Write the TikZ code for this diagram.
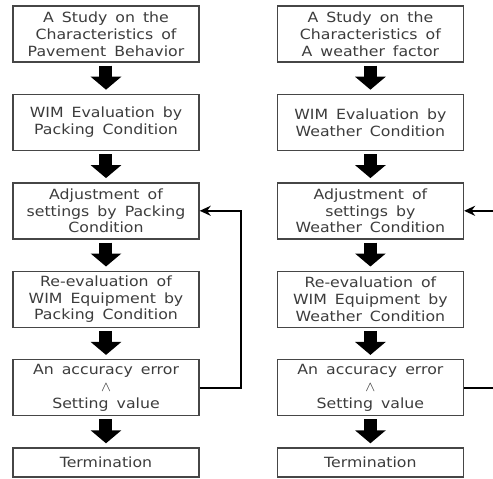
\documentclass[tikz,border=0pt]{standalone}
\usepackage{fontspec}
\setmainfont{DejaVu Sans}[FakeStretch=1.12, WordSpace=1.6]
\usepackage{xcolor}
\usepackage{tikz}
\usetikzlibrary{arrows.meta, positioning}
\definecolor{boxgray}{RGB}{70, 70, 70}
\definecolor{textgray}{RGB}{60, 60, 60}

\begin{document}
\begin{tikzpicture}[
    node distance=0.62cm and 1.54cm,
    stage/.style={draw=boxgray, line width=0.8pt, minimum width=3.72cm,
                  minimum height=1.12cm, align=center, text=textgray,
                  font=\fontsize{8}{9.6}\selectfont, inner sep=1pt},
    fat/.style={line width=0.26cm, -{Triangle[length=0.26cm, width=0.6cm]},
                shorten <=0.06cm, shorten >=0.08cm},
    loop/.style={-{Stealth[length=0.22cm, width=0.2cm]}, line width=1.1pt}
]
    \useasboundingbox (0,0) rectangle (9.86,-9.58);

    % left column
    \node[stage] (pave) at (2.12,-0.68) {A Study on the\\Characteristics of\\Pavement Behavior};
    \node[stage, below=of pave] (evalpack) {WIM Evaluation by\\Packing Condition};
    \node[stage, below=of evalpack] (adjpack) {Adjustment of\\settings by Packing\\Condition};
    \node[stage, below=of adjpack] (reevalpack) {Re-evaluation of\\WIM Equipment by\\Packing Condition};
    \node[stage, below=of reevalpack] (errpack) {An accuracy error\\\(\wedge\)\\Setting value};
    \node[stage, below=of errpack, minimum height=0.58cm] (endpack) {Termination};

    % right column
    \node[stage, right=of pave] (weather) {A Study on the\\Characteristics of\\A weather factor};
    \node[stage, below=of weather] (evalweat) {WIM Evaluation by\\Weather Condition};
    \node[stage, below=of evalweat] (adjweat) {Adjustment of\\settings by\\Weather Condition};
    \node[stage, below=of adjweat] (reevalweat) {Re-evaluation of\\WIM Equipment by\\Weather Condition};
    \node[stage, below=of reevalweat] (errweat) {An accuracy error\\\(\wedge\)\\Setting value};
    \node[stage, below=of errweat, minimum height=0.58cm] (endweat) {Termination};

    \draw[fat] (pave) -- (evalpack);
    \draw[fat] (evalpack) -- (adjpack);
    \draw[fat] (adjpack) -- (reevalpack);
    \draw[fat] (reevalpack) -- (errpack);
    \draw[fat] (errpack) -- (endpack);

    \draw[fat] (weather) -- (evalweat);
    \draw[fat] (evalweat) -- (adjweat);
    \draw[fat] (adjweat) -- (reevalweat);
    \draw[fat] (reevalweat) -- (errweat);
    \draw[fat] (errweat) -- (endweat);

    % feedback loops
    \draw[loop] (errpack.east) -- ++(0.82,0) |- (adjpack.east);
    \draw[loop] (errweat.east) -- ++(0.82,0) |- (adjweat.east);
\end{tikzpicture}
\end{document}
